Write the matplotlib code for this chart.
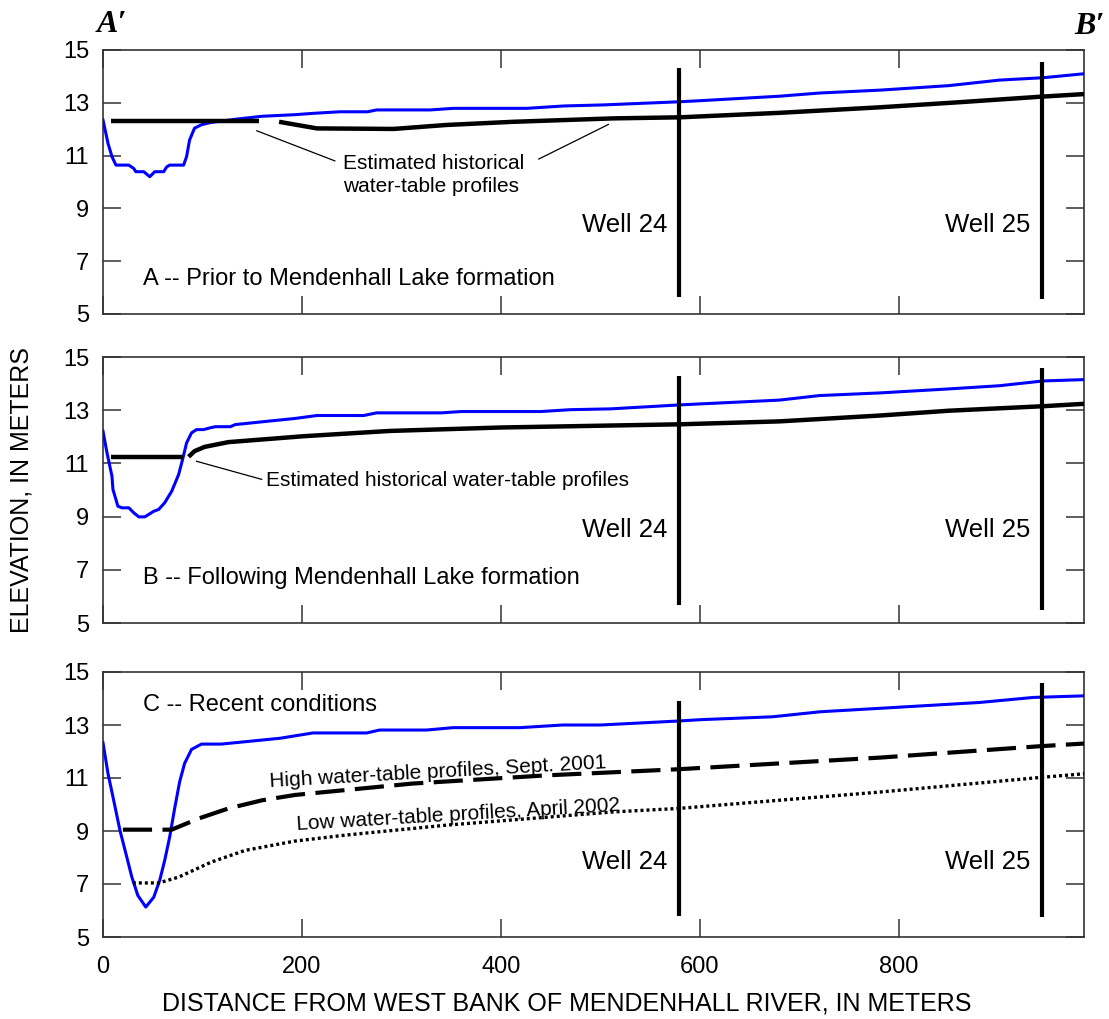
## Dependencies
import matplotlib

matplotlib.use("Agg")
import matplotlib.pyplot as plt

plt.rcParams["font.family"] = ["Liberation Sans", "DejaVu Sans"]

## Data (distance in m, elevation in m)
# Panel A -- prior to lake formation
a_river_x = [0, 5, 9, 13, 26, 31, 33, 41, 47, 52, 61, 64, 67, 81, 84, 87, 92, 99, 109, 136,
             160, 193, 211, 238, 266, 275, 329, 352, 426, 463, 503, 580, 600, 680, 720, 781,
             850, 901, 945, 986]
a_river_y = [12.35, 11.47, 10.96, 10.64, 10.64, 10.51, 10.39, 10.39, 10.2, 10.39, 10.39, 10.57,
             10.64, 10.64, 10.96, 11.59, 12.04, 12.17, 12.26, 12.39, 12.49, 12.55, 12.6, 12.66,
             12.66, 12.73, 12.73, 12.79, 12.79, 12.88, 12.92, 13.04, 13.08, 13.25, 13.37, 13.48,
             13.65, 13.86, 13.95, 14.1]
a_hist1_x = [8, 157]
a_hist1_y = [12.3, 12.3]
a_hist2_x = [177, 215, 292, 345, 412, 513, 580, 680, 781, 860, 942, 986]
a_hist2_y = [12.28, 12.03, 12.01, 12.16, 12.28, 12.41, 12.45, 12.62, 12.83, 13.02, 13.23, 13.33]

# Panel B -- following lake formation
b_river_x = [0, 4, 9, 10, 15, 19, 26, 31, 36, 42, 51, 56, 62, 69, 76, 80, 84, 89, 94, 101,
             108, 113, 128, 133, 193, 215, 262, 275, 340, 360, 440, 470, 510, 580, 680, 720,
             781, 850, 901, 945, 986]
b_river_y = [12.21, 11.4, 10.52, 10.02, 9.39, 9.33, 9.33, 9.14, 8.99, 8.99, 9.2, 9.27, 9.52,
             9.95, 10.58, 11.15, 11.77, 12.15, 12.27, 12.27, 12.34, 12.38, 12.38, 12.46, 12.69,
             12.8, 12.8, 12.9, 12.9, 12.95, 12.95, 13.02, 13.05, 13.2, 13.38, 13.55, 13.65,
             13.8, 13.92, 14.1, 14.15]
b_hist1_x = [8, 80]
b_hist1_y = [11.23, 11.23]
b_hist2_x = [86, 92, 102, 126, 201, 288, 400, 580, 680, 781, 850, 945, 986]
b_hist2_y = [11.25, 11.46, 11.62, 11.8, 12.02, 12.22, 12.35, 12.47, 12.58, 12.8, 12.98, 13.15, 13.24]

# Panel C -- recent conditions
c_river_x = [0, 5, 10, 17, 23, 29, 35, 43, 51, 57, 62, 67, 72, 77, 82, 89, 99, 119, 178, 211,
             265, 278, 325, 352, 419, 462, 500, 578, 600, 673, 721, 781, 881, 935, 986]
c_river_y = [12.33, 11.17, 10.29, 9.03, 8.15, 7.26, 6.57, 6.13, 6.5, 7.14, 7.89, 8.77, 9.85,
             10.85, 11.55, 12.08, 12.28, 12.28, 12.5, 12.7, 12.7, 12.81, 12.81, 12.9, 12.9,
             13.0, 13.0, 13.15, 13.2, 13.31, 13.5, 13.63, 13.85, 14.04, 14.1]
c_high_x = [20, 69, 96, 126, 160, 193, 311, 446, 578, 781, 942, 986]
c_high_y = [9.05, 9.05, 9.47, 9.85, 10.16, 10.36, 10.79, 11.1, 11.33, 11.77, 12.2, 12.3]
c_low_x = [30, 56, 76, 109, 143, 193, 245, 345, 513, 578, 781, 942, 986]
c_low_y = [7.04, 7.04, 7.26, 7.83, 8.27, 8.62, 8.85, 9.22, 9.72, 9.85, 10.47, 11.02, 11.16]

# Wells: x position and vertical extent per panel
well_names = ["Well 24", "Well 25"]
well_x = [579, 944]
well_bottom = {"A": [5.64, 5.57], "B": [5.68, 5.49], "C": [5.81, 5.74]}
well_top = {"A": [14.32, 14.55], "B": [14.28, 14.58], "C": [13.9, 14.57]}

panel_titles = {
    "A": "A -- Prior to Mendenhall Lake formation",
    "B": "B -- Following Mendenhall Lake formation",
    "C": "C -- Recent conditions",
}

x_ticks = [0, 200, 400, 600, 800]
y_ticks = [5, 7, 9, 11, 13, 15]

## Style
W, H = 1109, 1019
frame_color = "#333333"
blue = "#0000ff"
label_fs = 17
text_fs = 15


def make_axes(top_px, bottom_px, show_x=False):
    left, right = 103, 1084
    ax = fig.add_axes(
        [left / W, 1 - bottom_px / H, (right - left) / W, (bottom_px - top_px) / H]
    )
    ax.set_xlim(0, 986)
    ax.set_ylim(5, 15)
    ax.set_xticks(x_ticks)
    ax.set_yticks(y_ticks)
    ax.tick_params(
        direction="in", length=13, width=1.1, color=frame_color,
        top=True, right=True, labelsize=label_fs, labelbottom=show_x,
    )
    ax.tick_params(axis="y", pad=10)
    ax.tick_params(axis="x", pad=14)
    for s in ax.spines.values():
        s.set_color(frame_color)
        s.set_linewidth(1.2)
    return ax


def draw_wells(ax, key, label_y):
    for name, x, y0, y1 in zip(well_names, well_x, well_bottom[key], well_top[key]):
        ax.plot([x, x], [y0, y1], color="black", lw=3, solid_capstyle="butt", zorder=4)
        ax.text(x - 12, label_y, name, ha="right", va="center", fontsize=18.5)


fig = plt.figure(figsize=(W / 100, H / 100), dpi=100)

## Panel A
ax = make_axes(50, 314)
ax.plot(a_river_x, a_river_y, color=blue, lw=2.2, zorder=3)
ax.plot(a_hist1_x, a_hist1_y, color="black", lw=3.2, solid_capstyle="butt", zorder=3)
ax.plot(a_hist2_x, a_hist2_y, color="black", lw=3.2, solid_capstyle="butt", zorder=3)
ax.plot([154.6, 233], [11.94, 10.8], color="black", lw=0.9)
ax.plot([438, 508], [10.87, 12.18], color="black", lw=0.9)
ax.text(241, 10.49, "Estimated historical", fontsize=text_fs, va="baseline")
ax.text(241, 9.62, "water-table profiles", fontsize=text_fs, va="baseline")
ax.text(40, 6.33, panel_titles["A"], fontsize=label_fs, va="center")
draw_wells(ax, "A", 8.37)

## Panel B
ax = make_axes(357, 623)
ax.plot(b_river_x, b_river_y, color=blue, lw=2.2, zorder=3)
ax.plot(b_hist1_x, b_hist1_y, color="black", lw=3.2, solid_capstyle="butt", zorder=3)
ax.plot(b_hist2_x, b_hist2_y, color="black", lw=3.2, solid_capstyle="butt", zorder=3)
ax.plot([94, 159.5], [11.08, 10.4], color="black", lw=0.9)
ax.text(164, 10.36, "Estimated historical water-table profiles", fontsize=text_fs, va="center")
ax.text(40, 6.71, panel_titles["B"], fontsize=label_fs, va="center")
draw_wells(ax, "B", 8.51)

## Panel C
ax = make_axes(672, 937, show_x=True)
ax.plot(c_river_x, c_river_y, color=blue, lw=2.2, zorder=3)
ax.plot(c_high_x, c_high_y, color="black", lw=3, dashes=(7, 2.5), dash_capstyle="butt", zorder=3)
ax.plot(c_low_x, c_low_y, color="black", lw=2.4, dashes=(0.9, 0.9), dash_capstyle="butt", zorder=3)
ax.text(168, 10.65, "High water-table profiles, Sept. 2001", fontsize=text_fs,
        rotation=3.2, rotation_mode="anchor", ha="left", va="baseline")
ax.text(195, 9.03, "Low water-table profiles, April 2002", fontsize=text_fs,
        rotation=3.4, rotation_mode="anchor", ha="left", va="baseline")
ax.text(40, 13.75, panel_titles["C"], fontsize=label_fs, va="center")
draw_wells(ax, "C", 7.82)

## Figure labels
fig.text(22 / W, 1 - 490 / H, "ELEVATION, IN METERS", rotation=90,
         ha="center", va="center", fontsize=18)
fig.text(567 / W, 1 - 1003 / H, "DISTANCE FROM WEST BANK OF MENDENHALL RIVER, IN METERS",
         ha="center", va="center", fontsize=18)
serif = ["Liberation Serif", "DejaVu Serif"]
fig.text(97 / W, 1 - 32 / H, "A\u2032", family=serif, fontweight="bold",
         fontstyle="italic", fontsize=23, ha="left", va="baseline")
fig.text(1074 / W, 1 - 34 / H, "B\u2032", family=serif, fontweight="bold",
         fontstyle="italic", fontsize=23, ha="left", va="baseline")

fig.savefig("out.png", dpi=100)
plt.close(fig)
